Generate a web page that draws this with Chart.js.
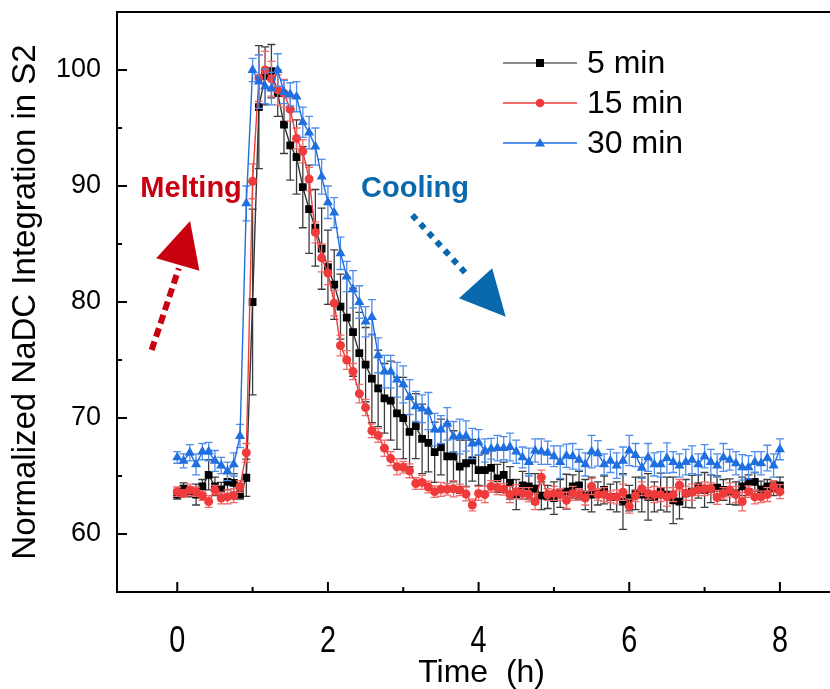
<!DOCTYPE html>
<html>
<head>
<meta charset="utf-8">
<script src="https://cdn.jsdelivr.net/npm/chart.js@4/dist/chart.umd.min.js"></script>
<style>
  html, body { margin: 0; padding: 0; background: #ffffff; overflow: hidden; }
  #view { width: 830px; height: 689px; overflow: hidden; position: relative; }
  #wrap { width: 852px; height: 689px; position: absolute; left: 0; top: 0; }
</style>
</head>
<body>
<div id="view"><div id="wrap"><canvas id="c"></canvas></div></div>
<script>
// Sampling times (minutes after start)
const timeMin = [
  0,5,10,15,20,25,30,35,40,45,50,55,60,65,70,75,80,85,90,95,
  100,105,110,115,120,125,130,135,140,145,150,155,160,165,170,175,180,185,190,195,
  200,205,210,215,220,225,230,235,240,245,250,255,260,265,270,275,280,285,290,295,
  300,305,310,315,320,325,330,335,340,345,350,355,360,365,370,375,380,385,390,395,
  400,405,410,415,420,425,430,435,440,445,450,455,460,465,470,475,480
];

const seriesNames = ['5 min', '15 min', '30 min'];

// Normalized NaDC integration, 5 min melting
const val5 = [
  63.4,63.9,63.6,63.4,64.1,65.1,64.1,63.85,64.5,64.4,63.4,64.85,80.0,96.8,99.5,99.9,98.0,95.3,93.5,92.5,
  89.9,88.0,86.4,84.6,83.0,81.5,79.6,78.65,77.4,75.6,74.6,73.4,72.55,71.7,71.5,70.4,70.0,68.8,69.3,68.2,
  67.85,67.05,67.5,66.7,66.7,65.8,66.1,66.35,65.5,65.5,65.7,64.8,65.1,64.4,63.4,64.2,64.1,63.9,63.3,63.2,
  63.1,63.5,63.65,64.1,64.2,63.4,63.4,63.5,63.8,63.2,63.2,62.8,63.1,63.5,63.4,63.2,63.2,63.65,63.4,62.9,
  62.8,63.5,63.65,64.1,63.8,63.9,64.0,63.8,63.65,63.5,64.1,64.5,64.5,63.85,64.1,63.9,64.2
];
const err5 = [
  0.4,0.5,0.4,0.9,0.6,1.3,0.8,0.6,0.7,0.8,0.4,1.6,8.0,5.3,2.5,2.3,2.0,2.5,3.0,3.2,
  3.5,3.8,3.3,3.5,3.2,3.0,2.8,3.5,3.8,3.5,3.2,3.8,3.3,3.0,3.4,3.1,3.5,3.0,2.8,3.0,
  2.5,2.6,2.4,2.8,2.2,2.3,2.0,1.8,1.3,1.4,1.6,1.2,1.1,1.4,1.3,1.2,1.1,1.3,1.2,1.0,
  1.4,1.2,1.5,1.0,1.2,1.3,1.5,1.0,1.2,1.1,1.3,2.4,1.1,1.4,1.5,2.0,1.3,1.6,1.5,2.0,
  1.5,1.2,1.4,1.0,1.5,1.2,1.0,0.9,1.1,1.0,0.8,0.6,0.8,0.7,0.6,0.6,0.7
];

// 15 min melting
const val15 = [
  63.65,63.5,63.8,63.65,63.3,62.8,63.8,63.1,63.2,63.3,64.1,67.0,90.4,99.3,100.0,99.25,98.3,98.0,96.6,94.1,
  93.0,90.6,86.0,83.8,82.5,79.9,76.25,75.0,74.0,72.1,70.9,68.9,68.5,67.4,66.5,65.8,65.75,65.45,64.35,64.45,
  64.05,63.65,63.85,63.85,63.9,63.8,63.45,62.5,63.5,63.4,64.1,64.0,63.85,63.4,63.65,63.5,63.4,62.8,64.9,63.4,
  63.5,63.4,62.9,63.5,63.4,63.1,64.1,63.4,63.4,63.2,63.2,63.6,62.4,63.3,63.9,63.5,63.4,63.4,63.2,63.4,
  64.2,63.5,63.6,63.8,63.9,63.9,63.15,63.5,63.8,63.4,62.8,63.65,63.2,63.2,63.4,64.1,63.65
];
const err15 = [
  0.4,0.3,0.5,0.4,0.4,0.5,0.4,0.5,0.6,0.6,0.5,0.8,1.5,2.0,1.6,1.5,1.3,1.2,1.0,0.9,
  1.0,1.0,0.9,1.2,1.0,1.1,0.9,0.8,0.7,0.8,0.7,0.6,0.6,0.7,0.6,0.7,0.5,0.6,0.5,0.6,
  0.5,0.5,0.6,0.5,0.7,0.5,0.6,0.5,0.6,0.7,0.5,0.6,0.5,0.7,0.6,0.5,0.6,0.7,0.6,0.5,
  0.6,0.5,0.7,0.6,0.5,0.6,0.7,0.5,0.6,0.5,0.6,0.7,0.6,0.5,0.6,0.5,0.7,0.6,0.8,0.6,
  0.5,0.6,0.7,0.5,0.6,0.5,0.6,0.5,0.6,0.7,0.8,0.5,0.6,0.5,0.6,0.5,0.6
];

// 30 min melting
const val30 = [
  66.6,66.3,67.0,66.0,67.1,67.1,66.3,65.9,65.4,66.0,68.45,88.5,100.0,99.0,98.6,98.4,100.0,98.1,97.9,97.7,
  95.5,94.6,93.4,90.8,88.6,87.7,84.2,82.2,81.1,80.0,78.3,78.7,75.4,74.0,74.0,73.3,72.9,71.8,71.0,70.8,
  70.6,69.0,69.0,69.5,68.4,68.4,68.45,67.8,67.9,67.2,67.35,67.4,67.4,67.5,67.1,66.6,66.2,67.2,67.1,67.0,
  66.7,66.2,66.75,66.7,66.4,66.0,67.1,66.95,66.0,66.3,65.9,66.3,67.2,66.8,65.7,66.6,66.0,66.0,66.55,66.2,
  65.9,66.2,66.4,66.0,66.7,66.2,65.9,66.6,66.4,66.1,65.75,65.75,66.2,66.1,66.55,65.9,67.3
];
const err30 = [
  0.5,0.6,0.7,0.9,0.7,0.8,0.9,0.7,0.8,1.0,1.0,1.5,1.0,2.3,1.5,1.4,1.4,1.0,1.0,1.3,
  1.3,1.4,1.6,1.5,1.4,1.3,1.4,1.3,1.6,1.4,1.3,1.5,1.5,1.4,1.4,1.5,1.6,1.5,1.3,1.2,
  1.6,1.4,1.2,1.4,1.3,1.5,1.3,1.3,1.1,1.0,0.9,1.1,1.0,1.2,1.0,0.9,1.2,1.0,1.1,1.0,
  0.9,1.4,1.0,1.1,0.9,1.0,1.4,1.1,0.9,1.0,1.1,1.2,1.3,1.0,0.9,1.2,1.0,1.1,1.3,0.9,
  1.0,1.1,1.2,0.9,1.0,1.1,1.0,1.2,0.9,1.0,1.1,1.0,0.9,1.0,1.1,1.0,0.9
];

const xTicks = [0, 2, 4, 6, 8];
const xMinor = [1, 3, 5, 7];
const yTicks = [60, 70, 80, 90, 100];
const yMinor = [65, 75, 85, 95];

const FONT = '"Liberation Sans", Arial, sans-serif';

const palette = {
  '5 min':  { line: '#333333', marker: '#000000', err: '#3c3c3c', legendLine: '#666666', style: 'rect',     radius: 5.5 },
  '15 min': { line: '#EF3B3B', marker: '#EF3B3B', err: '#F26A6A', legendLine: '#EF3B3B', style: 'circle',   radius: 4.5 },
  '30 min': { line: '#1F6FE0', marker: '#1F6FE0', err: '#4F8DEA', legendLine: '#1F6FE0', style: 'triangle', radius: 5.8 }
};

const values = [val5, val15, val30];
const errors = [err5, err15, err30];
const drawOrder = [3, 2, 1];

const datasets = seriesNames.map((name, k) => {
  const p = palette[name];
  return {
    label: name,
    data: timeMin.map((m, i) => ({ x: m / 60, y: values[k][i] })),
    errors: errors[k],
    borderColor: p.line,
    backgroundColor: p.marker,
    pointBackgroundColor: p.marker,
    pointBorderColor: p.marker,
    pointBorderWidth: 0,
    pointStyle: p.style,
    pointRadius: p.radius,
    borderWidth: 1.4,
    tension: 0,
    order: drawOrder[k]
  };
});

// Vertical error bars with caps, drawn just before each dataset
const errorBars = {
  id: 'errorBars',
  beforeDatasetDraw(chart, args) {
    const ds = chart.data.datasets[args.index];
    const meta = args.meta;
    const y = chart.scales.y;
    const ctx = chart.ctx;
    const col = palette[ds.label].err;
    ctx.save();
    ctx.beginPath();
    ctx.rect(chart.chartArea.left, chart.chartArea.top, chart.chartArea.right - chart.chartArea.left, chart.chartArea.bottom - chart.chartArea.top);
    ctx.clip();
    ctx.strokeStyle = col;
    ctx.lineWidth = 1.3;
    ds.data.forEach((pt, i) => {
      const el = meta.data[i];
      const e = ds.errors[i];
      const yt = y.getPixelForValue(pt.y + e);
      const yb = y.getPixelForValue(pt.y - e);
      const cx = el.x;
      ctx.beginPath();
      ctx.moveTo(cx, yt); ctx.lineTo(cx, yb);
      ctx.moveTo(cx - 4, yt); ctx.lineTo(cx + 4, yt);
      ctx.moveTo(cx - 4, yb); ctx.lineTo(cx + 4, yb);
      ctx.stroke();
    });
    ctx.restore();
  }
};

// Frame with inward major/minor ticks and condensed x tick labels
const frame = {
  id: 'frame',
  afterDraw(chart) {
    const { ctx, chartArea: a, scales: { x, y } } = chart;
    ctx.save();
    ctx.strokeStyle = '#000';
    ctx.lineWidth = 2;
    ctx.beginPath();
    ctx.moveTo(a.right, a.top); ctx.lineTo(a.left, a.top);
    ctx.lineTo(a.left, a.bottom); ctx.lineTo(a.right, a.bottom);
    ctx.lineTo(a.right, a.top);
    ctx.stroke();
    ctx.beginPath();
    xTicks.forEach(v => { const px = x.getPixelForValue(v); ctx.moveTo(px, a.bottom); ctx.lineTo(px, a.bottom - 10); });
    xMinor.forEach(v => { const px = x.getPixelForValue(v); ctx.moveTo(px, a.bottom); ctx.lineTo(px, a.bottom - 5); });
    yTicks.forEach(v => { const py = y.getPixelForValue(v); ctx.moveTo(a.left, py); ctx.lineTo(a.left + 10, py); });
    yMinor.forEach(v => { const py = y.getPixelForValue(v); ctx.moveTo(a.left, py); ctx.lineTo(a.left + 5, py); });
    ctx.stroke();
    ctx.fillStyle = '#000';
    ctx.font = '36px ' + FONT;
    ctx.textAlign = 'center';
    ctx.textBaseline = 'middle';
    xTicks.forEach(v => {
      ctx.save();
      ctx.translate(x.getPixelForValue(v), a.bottom + 50);
      ctx.scale(0.8, 1);
      ctx.fillText(String(v), 0, 0);
      ctx.restore();
    });
    ctx.restore();
  }
};

// Melting / Cooling notes with dotted arrows (positions in data units)
const notes = {
  id: 'notes',
  afterDraw(chart) {
    const { ctx, scales: { x, y } } = chart;
    const P = (hx, vy) => [x.getPixelForValue(hx), y.getPixelForValue(vy)];
    function arrow(from, to, head, color, dash) {
      const a = P(...from), b = P(...to);
      ctx.save();
      ctx.strokeStyle = color;
      ctx.fillStyle = color;
      ctx.lineWidth = 6;
      ctx.setLineDash(dash);
      ctx.lineCap = 'butt';
      ctx.beginPath(); ctx.moveTo(a[0], a[1]); ctx.lineTo(b[0], b[1]); ctx.stroke();
      ctx.setLineDash([]);
      const h = head.map(q => P(...q));
      ctx.beginPath();
      ctx.moveTo(h[0][0], h[0][1]); ctx.lineTo(h[1][0], h[1][1]); ctx.lineTo(h[2][0], h[2][1]);
      ctx.closePath(); ctx.fill();
      ctx.restore();
    }
    arrow([-0.34, 75.86], [0.02, 82.9], [[-0.28, 83.77], [0.17, 86.98], [0.294, 82.7]], '#C8000F', [9, 5]);
    arrow([3.12, 87.5], [3.85, 82.33], [[3.74, 80.32], [4.18, 82.9], [4.36, 78.73]], '#0A68AD', [6, 6]);
    ctx.save();
    ctx.font = 'bold 29px ' + FONT;
    ctx.textBaseline = 'alphabetic';
    ctx.fillStyle = '#C8000F';
    let p = P(-0.49, 89.05);
    ctx.fillText('Melting', p[0], p[1]);
    ctx.fillStyle = '#0A68AD';
    p = P(2.44, 89.05);
    ctx.fillText('Cooling', p[0], p[1]);
    ctx.restore();
  }
};

// Legend: line segment with centred marker, then label
const legendBox = {
  id: 'legendBox',
  afterDraw(chart) {
    const { ctx, chartArea: a } = chart;
    ctx.save();
    chart.data.datasets.forEach((ds, k) => {
      const p = palette[ds.label];
      const cy = a.top + 51 + k * 40;
      const x0 = 503, x1 = 577, cx = 540;
      ctx.strokeStyle = p.legendLine;
      ctx.lineWidth = 1.4;
      ctx.beginPath(); ctx.moveTo(x0, cy); ctx.lineTo(x1, cy); ctx.stroke();
      ctx.fillStyle = p.marker;
      ctx.beginPath();
      if (p.style === 'rect') ctx.rect(cx - 4, cy - 4, 8, 8);
      else if (p.style === 'circle') ctx.arc(cx, cy, 4.3, 0, Math.PI * 2);
      else { ctx.moveTo(cx, cy - 5); ctx.lineTo(cx + 5, cy + 3.5); ctx.lineTo(cx - 5, cy + 3.5); ctx.closePath(); }
      ctx.fill();
      ctx.fillStyle = '#000';
      ctx.font = '32px ' + FONT;
      ctx.textBaseline = 'middle';
      ctx.fillText(ds.label, 587, cy + 1);
    });
    ctx.restore();
  }
};

new Chart(document.getElementById('c'), {
  type: 'line',
  data: { datasets },
  plugins: [errorBars, frame, notes, legendBox],
  options: {
    responsive: true,
    maintainAspectRatio: false,
    animation: false,
    events: [],
    layout: { padding: { left: 0, top: 12, right: 0, bottom: 0 } },
    plugins: { legend: { display: false }, tooltip: { enabled: false } },
    scales: {
      x: {
        type: 'linear',
        min: -0.8,
        max: 8.88,
        afterBuildTicks(scale) { scale.ticks = xTicks.map(v => ({ value: v })); },
        afterFit(scale) { scale.height = 97; scale.paddingLeft = 0; scale.paddingRight = 0; },
        grid: { display: false, drawTicks: false },
        border: { display: false },
        ticks: { display: false },
        title: { display: true, text: 'Time  (h)', color: '#000', padding: { top: 0, bottom: 0 }, font: { family: FONT, size: 32, lineHeight: 1.0 } }
      },
      y: {
        min: 55,
        max: 105,
        afterBuildTicks(scale) { scale.ticks = yTicks.map(v => ({ value: v })); },
        afterFit(scale) { scale.width = 117; scale.paddingTop = 0; scale.paddingBottom = 0; },
        grid: { display: false, drawTicks: false },
        border: { display: false },
        ticks: { padding: 16, color: '#000', font: { family: FONT, size: 27 } },
        title: { display: true, text: 'Normalized NaDC Integration in S2', color: '#000', padding: { top: 6, bottom: 0 }, font: { family: FONT, size: 33, lineHeight: 1.2 } }
      }
    }
  }
});
</script>
</body>
</html>
